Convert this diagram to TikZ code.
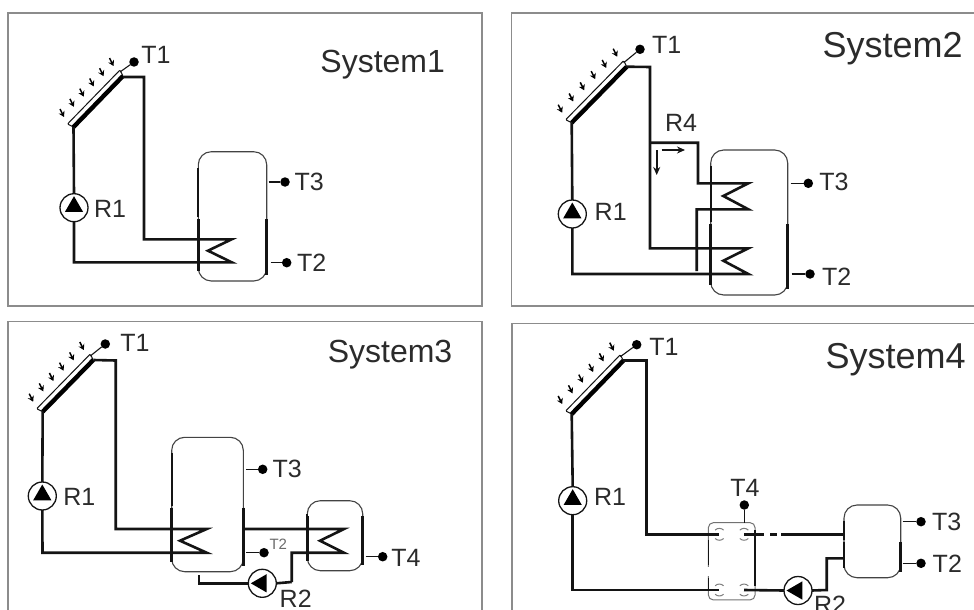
\documentclass[tikz,border=0pt]{standalone}
\usepackage{fontspec}
\setmainfont{Liberation Sans}
\usetikzlibrary{calc,arrows.meta,shapes.geometric}
\definecolor{ink}{HTML}{141414}
\definecolor{framec}{HTML}{8C8C8C}
\definecolor{txt}{HTML}{2B2B2B}
\tikzset{
 framebox/.style={draw=framec,line width=1.1pt},
 pipe/.style={draw=ink,line width=2.6pt,line join=miter},
 thinpipe/.style={draw=ink,line width=1.1pt},
 pumpc/.style={circle,draw=ink,line width=1.3pt,fill=white,minimum size=28pt,inner sep=0pt,outer sep=0pt},
 pumpt/.style={regular polygon,regular polygon sides=3,fill=black,inner sep=0pt,minimum size=21pt,outer sep=0pt},
 sensor/.style={circle,fill=black,minimum size=9.5pt,inner sep=0pt,outer sep=0pt},
 lab/.style={text=txt,font=\fontsize{25}{25}\selectfont,inner sep=0pt},
 smalllab/.style={text=txt!70,font=\fontsize{15}{15}\selectfont,inner sep=0pt},
 syslab/.style={text=txt,font=\fontsize{32}{32}\selectfont,inner sep=0pt},
 syslabb/.style={text=txt,font=\fontsize{36}{36}\selectfont,inner sep=0pt},
 tankbox/.style={draw=ink!80,line width=1.1pt,rounded corners=13pt,inner sep=0pt,outer sep=0pt},
 sun/.style={draw=black,line width=1.5pt,-{Stealth[length=5.5pt,width=6.5pt]}},
}
\newcommand\TankBox[6]{%
 \node[tankbox,minimum width={(#4-#2)*1pt},minimum height={(#5-#3)*1pt}] (#1) at ({(#2+#4)/2},{(#3+#5)/2}) {};
 \draw[ink,line width=1.9pt] (#2,#3+16) -- (#2,#6-1);
 \draw[ink,line width=2.6pt] (#2,#6+1) -- (#2,#5-10);
 \draw[ink,line width=2.6pt] (#4,#6+1) -- (#4,#5-6);
}
\newcommand\Collector[5]{%
 \coordinate (#1low) at (#2,#3);
 \coordinate (#1top) at (#4,#5);
 \foreach \t in {0,...,5}{\draw[sun] ($(#1low)!\t*0.2!(#1top)+(-13.5,-18)$) -- +(4,8);}
 \draw[ink,line width=1pt,fill=white,rounded corners=1pt] ($(#1low)+(-6,-3)$) -- ($(#1top)+(-3,-6)$) -- (#1top) -- (#1low) -- cycle;
 \draw[black,line width=4.4pt] (#1low) -- (#1top);
}
\newcommand\Pump[5]{%
 \node[pumpc] (#1) at (#2,#3) {};
 \node[pumpt,rotate=#4] at ($(#1)+(#5)$) {};
}
\newcommand\Ring[3]{%
 \coordinate (#1) at (#2,#3);
 \draw[ink!55,line width=1pt] ($(#1)+(-4.2,-4.2)$) arc[start angle=-135,end angle=-45,radius=6];
 \draw[ink!55,line width=1pt] ($(#1)+(-4.2,4.2)$) arc[start angle=135,end angle=45,radius=6];
}
\begin{document}
\begin{tikzpicture}[x=1pt,y=-1pt]
\useasboundingbox (0,0) rectangle (974,610);
\fill[white] (0,0) rectangle (974,610);
\coordinate (fa1) at (8,13); \coordinate (fa2) at (482,306);
\draw[framebox] (fa1) rectangle (fa2);
\draw[framebox] (980,13) -- (511.7,13) -- (511.7,306) -- (980,306);
\draw[framebox] (8,620) -- (8,321.5) -- (482,321.5) -- (482,620);
\draw[framebox] (980,323.5) -- (512,323.5) -- (512,620);

% ===== System 1
\node[syslab] (s1) at (382.7,65) {System1};
\Collector{a}{73.5}{127}{123}{76}
\node[sensor] (aT1) at (134,62) {};
\draw[thinpipe] ($(atop)+(-3,-4)$) -- (aT1);
\node[lab] (aT1l) at (156,55) {T1};
\Pump{aP}{74}{207.7}{0}{0,-1}
\node[lab] (aR1) at (110,209) {R1};
\TankBox{aTank}{198.3}{151.7}{266.7}{281}{218}
\coordinate (ac1) at (144,77); \coordinate (ac2) at (144,239.3);
\draw[pipe] (atop) ++(0,1) -- (ac1) -- (ac2) -- (231.7,239.3) -- (208,250.7) -- (231.7,262.3) -- (74,262.3) -- (aP.south);
\draw[pipe] (aP.north) -- (alow);
\node[sensor] (aT3) at (285,182) {};
\node[lab] (aT3l) at (309.3,181.7) {T3};
\draw[thinpipe] (aTank.east |- aT3) ++(2,0) -- (aT3);
\node[sensor] (aT2) at (286.7,262.7) {};
\node[lab] (aT2l) at (311.7,262.3) {T2};
\draw[thinpipe] (aTank.east |- aT2) ++(4,0) -- (aT2);

% ===== System 2
\node[syslabb] (s2) at (892.7,49) {System2};
\Collector{b}{571.7}{122.7}{626.7}{66.7}
\node[sensor] (bT1) at (640,49.3) {};
\draw[thinpipe] ($(btop)+(-3,-4)$) -- (bT1);
\node[lab] (bT1l) at (666.7,45) {T1};
\Pump{bP}{572.3}{214}{0}{0,-1}
\node[lab] (bR1) at (610.7,211.7) {R1};
\TankBox{bTank}{710.7}{150}{787.7}{295}{223}
\coordinate (bc1) at (650,67); \coordinate (bc2) at (650,248.3);
\draw[pipe] (btop) -- (bc1) -- (bc2) -- (748.3,248.3) -- (723.3,260.7) -- (748.3,274) -- (572.3,274) -- (bP.south);
\draw[pipe] (bP.north) -- (blow);
\coordinate (bj) at (650,142.7);
\draw[pipe] (bj) -- (698,142.7) -- (698,183.3) -- (748.3,183.3) -- (723.3,196) -- (748.3,209.3) -- (696.7,209.3) -- (696.7,271);
\node[lab] (bR4) at (681,123.3) {R4};
\coordinate (bh1) at (661.7,150); \coordinate (bh2) at (685,150);
\coordinate (bv1) at (656.7,150); \coordinate (bv2) at (656.7,175);
\draw[pipe,line width=2pt,-{Stealth[length=8pt,width=7pt]}] (bh1) -- (bh2);
\draw[pipe,line width=2pt,-{Stealth[length=8pt,width=7pt]}] (bv1) -- (bv2);
\node[sensor] (bT3) at (808.3,183.3) {};
\node[lab] (bT3l) at (834,181.7) {T3};
\draw[thinpipe] (bTank.east |- bT3) ++(3,0) -- (bT3);
\node[sensor] (bT2) at (810,274) {};
\node[lab] (bT2l) at (836.7,276.7) {T2};
\draw[thinpipe] (bTank.east |- bT2) ++(4,0) -- (bT2);

% ===== System 3
\node[syslab] (s3) at (390,355) {System3};
\Collector{c}{42.7}{411.7}{93.3}{360}
\node[sensor] (cT1) at (105.3,344) {};
\draw[thinpipe] ($(ctop)+(-3,-4)$) -- (cT1);
\node[lab] (cT1l) at (135,342.7) {T1};
\Pump{cP}{42.3}{496}{0}{0,-1}
\node[lab] (cR1) at (79.3,496.7) {R1};
\TankBox{cTank}{171.7}{437.3}{243.3}{571.7}{506.7}
\TankBox{cTankB}{307.3}{500.7}{362.7}{570.7}{515}
\coordinate (cc1) at (115.7,360.5); \coordinate (cc2) at (115.7,529);
\draw[pipe] (ctop) -- (cc1) -- (cc2) -- (206.7,529) -- (180,540.7) -- (206.7,552.7) -- (42.5,552.7) -- (cP.south);
\draw[pipe] (cP.north) -- (clow);
\coordinate (cb1) at (244.3,529); \coordinate (cb2) at (291.7,552.7); \coordinate (cb3) at (291.7,582);
\draw[pipe] (cb1) -- (344,529) -- (320,540.7) -- (344,552.7) -- (cb2) -- (cb3);
\Pump{cR}{262.3}{583.3}{90}{-1,0}
\draw[pipe] (cb3) -- (cR.east);
\coordinate (cd1) at (199,583.3); \coordinate (cd2) at (199,575);
\draw[pipe] (cR.west) -- (cd1) -- (cd2);
\node[lab] (cR2) at (295.7,599) {R2};
\node[sensor] (cT3) at (262.7,469.3) {};
\node[lab] (cT3l) at (287.3,469.3) {T3};
\draw[thinpipe] (cTank.east |- cT3) ++(3,0) -- (cT3);
\node[sensor] (cT2) at (264,552.7) {};
\node[smalllab] (cT2l) at (278.3,544) {T2};
\draw[thinpipe] (cTank.east |- cT2) ++(3,0) -- (cT2);
\node[sensor] (cT4) at (382.7,556.7) {};
\node[lab] (cT4l) at (406,558.3) {T4};
\draw[thinpipe] (cTankB.east |- cT4) ++(3,0) -- (cT4);

% ===== System 4
\node[syslabb] (s4) at (895.7,359.5) {System4};
\Collector{d}{571.7}{414}{623.3}{360.7}
\node[sensor] (dT1) at (636.7,344.7) {};
\draw[thinpipe] ($(dtop)+(-3,-4)$) -- (dT1);
\node[lab] (dT1l) at (664,346.7) {T1};
\Pump{dP}{572.7}{500.7}{0}{0,-1}
\node[lab] (dR1) at (610,497.3) {R1};
\node[draw=ink!60,line width=1pt,rounded corners=5pt,minimum width=46.7pt,minimum height=77.3pt,inner sep=0pt,outer sep=0pt] (dHX) at (731.7,561.3) {};
\draw[ink,line width=1.6pt] (755,530) -- (755,586);
\draw[ink,line width=1.6pt] (708.3,540) -- (708.3,565);
\draw[ink,line width=1.6pt] (708.3,578) -- (708.3,590);
\draw[white,line width=2.4pt] (708.3,567) -- (708.3,576);
\Ring{hA}{719.3}{534.3}
\Ring{hB}{744}{534.3}
\Ring{hC}{719.3}{590}
\Ring{hD}{744}{590}
\coordinate (dc1) at (646.7,360.7); \coordinate (dc2) at (646.7,534.3); \coordinate (dc3) at (572.7,590);
\draw[pipe] (dtop) -- (dc1) -- (dc2) -- (hA);
\draw[pipe] (dP.north) -- (dlow);
\draw[pipe] (dP.south) -- (dc3) -- (hC);
\TankBox{dTank}{844}{505}{900.7}{577.7}{541}
\coordinate (dg1) at (764,534.3); \coordinate (dg2) at (770,534.3); \coordinate (dg3) at (777,534.3); \coordinate (dk) at (781,534.3);
\draw[pipe] (hB) -- (dg1);
\draw[pipe] (dg2) -- (dg3);
\draw[pipe] (dk) -- (dTank.west |- dk);
\node[sensor] (dT4) at (744.3,505) {};
\node[lab] (dT4l) at (745,487.7) {T4};
\draw[thinpipe] (dT4) -- (dT4 |- dHX.north);
\Pump{dR}{798}{590.5}{90}{-1,0}
\draw[pipe] (hD) -- (dR.west);
\coordinate (de1) at (826.7,590); \coordinate (de2) at (826.7,558.3);
\draw[pipe] (dR.east) -- (de1) -- (de2) -- (dTank.west |- de2);
\node[lab] (dR2) at (830,605) {R2};
\node[sensor] (dT3) at (921,521.7) {};
\node[lab] (dT3l) at (946.7,522.3) {T3};
\draw[thinpipe] (dTank.east |- dT3) ++(2,0) -- (dT3);
\node[sensor] (dT2) at (921,563.3) {};
\node[lab] (dT2l) at (947.3,564) {T2};
\draw[thinpipe] (dTank.east |- dT2) ++(2,0) -- (dT2);
\end{tikzpicture}
\end{document}
